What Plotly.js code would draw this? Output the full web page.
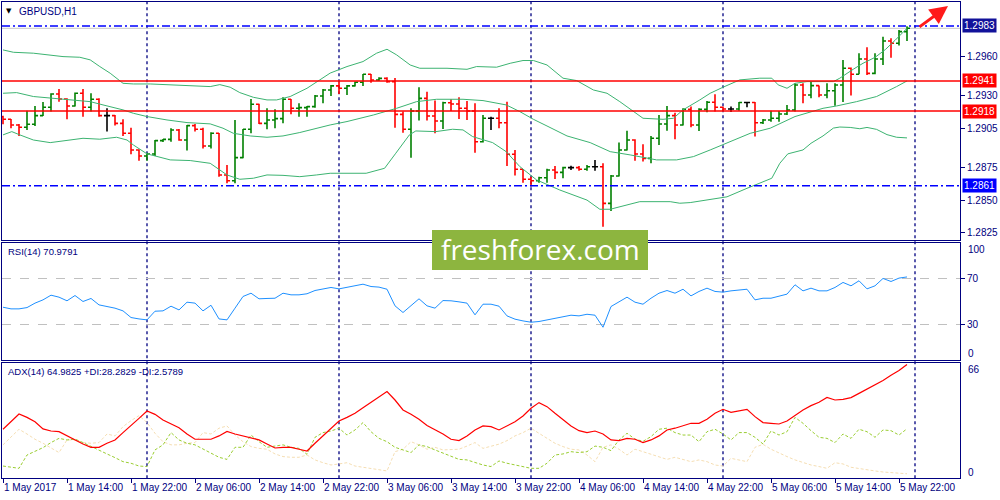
<!DOCTYPE html>
<html>
<head>
<meta charset="utf-8">
<script src="https://cdn.plot.ly/plotly-3.0.1.min.js"></script>
<style>
  html, body { margin: 0; padding: 0; background: #fff; }
  #chart { width: 1000px; height: 500px; }
</style>
</head>
<body>
<div id="chart"></div>
<script>
/* =========================
   GBPUSD H1 data
========================= */
const barOpen = [
  1.29137,1.29117,1.29074,1.29056,1.29079,1.29145,1.29209,1.29310,1.29272,1.29219,
  1.29316,1.29209,1.29270,1.29145,1.29145,1.29086,1.29010,1.28883,1.28837,1.28852,
  1.28954,1.28964,1.29035,1.28959,1.29069,1.29041,1.28913,1.29010,1.28692,1.28648,
  1.28824,1.29041,1.29232,1.29086,1.29112,1.29122,1.29270,1.29201,1.29206,1.29214,
  1.29295,1.29341,1.29372,1.29354,1.29372,1.29400,1.29461,1.29417,1.29430,1.29405,
  1.29155,1.29041,1.29181,1.29277,1.29142,1.29104,1.29244,1.29234,1.29201,1.29181,
  1.28946,1.29125,1.29125,1.29091,1.28850,1.28735,1.28659,1.28648,1.28671,1.28730,
  1.28712,1.28748,1.28748,1.28735,1.28755,1.28755,1.28475,1.28684,1.28883,1.28959,
  1.28852,1.28819,1.28972,1.29081,1.29145,1.29074,1.29193,1.29074,1.29193,1.29247,
  1.29209,1.29196,1.29196,1.29245,1.29245,1.29091,1.29112,1.29125,1.29158,1.29188,
  1.29379,1.29303,1.29374,1.29303,1.29335,1.29379,1.29507,1.29461,1.29578,1.29468,
  1.29578,1.29715,1.29698,1.29787
];
const barHigh = [
  1.29145,1.29120,1.29081,1.29183,1.29219,1.29249,1.29316,1.29349,1.29277,1.29321,
  1.29349,1.29316,1.29277,1.29201,1.29150,1.29117,1.29053,1.28888,1.28862,1.28959,
  1.28967,1.29048,1.29043,1.29074,1.29081,1.29053,1.29018,1.29012,1.28768,1.29112,
  1.29043,1.29272,1.29235,1.29201,1.29193,1.29285,1.29272,1.29239,1.29219,1.29303,
  1.29349,1.29379,1.29405,1.29379,1.29405,1.29463,1.29463,1.29438,1.29438,1.29432,
  1.29176,1.29201,1.29361,1.29328,1.29260,1.29252,1.29270,1.29285,1.29257,1.29239,
  1.29150,1.29137,1.29201,1.29252,1.28883,1.28738,1.28679,1.28679,1.28740,1.28760,
  1.28755,1.28763,1.28760,1.28768,1.28806,1.28781,1.28692,1.28939,1.29030,1.28964,
  1.28926,1.28990,1.29150,1.29219,1.29168,1.29201,1.29214,1.29201,1.29257,1.29308,
  1.29214,1.29214,1.29250,1.29250,1.29250,1.29120,1.29183,1.29181,1.29226,1.29392,
  1.29392,1.29405,1.29376,1.29392,1.29392,1.29570,1.29512,1.29621,1.29667,1.29621,
  1.29748,1.29736,1.29799,1.29828
];
const barLow = [
  1.29079,1.29048,1.28990,1.29035,1.29066,1.29142,1.29176,1.29252,1.29117,1.29214,
  1.29137,1.29176,1.29137,1.29023,1.29069,1.28990,1.28850,1.28801,1.28801,1.28837,
  1.28944,1.28946,1.28954,1.28878,1.29023,1.28895,1.28895,1.28679,1.28628,1.28628,
  1.28819,1.29010,1.29081,1.29041,1.29048,1.29086,1.29155,1.29137,1.29137,1.29206,
  1.29239,1.29295,1.29310,1.29303,1.29367,1.29372,1.29397,1.29410,1.29397,1.29053,
  1.29015,1.28824,1.29107,1.29107,1.29010,1.29043,1.29181,1.29120,1.29112,1.28862,
  1.28939,1.29035,1.29048,1.28760,1.28687,1.28633,1.28603,1.28633,1.28633,1.28661,
  1.28666,1.28730,1.28725,1.28725,1.28725,1.28297,1.28417,1.28680,1.28878,1.28801,
  1.28794,1.28781,1.28921,1.29030,1.28964,1.29069,1.29056,1.29028,1.29170,1.29176,
  1.29181,1.29173,1.29183,1.29209,1.28985,1.29081,1.29099,1.29099,1.29150,1.29176,
  1.29239,1.29277,1.29285,1.29277,1.29221,1.29250,1.29298,1.29461,1.29455,1.29462,
  1.29532,1.29588,1.29680,1.29715
];
const barClose = [
  1.29117,1.29074,1.29056,1.29079,1.29145,1.29209,1.29310,1.29272,1.29219,1.29316,
  1.29209,1.29270,1.29145,1.29145,1.29086,1.29010,1.28883,1.28837,1.28852,1.28954,
  1.28964,1.29035,1.28959,1.29069,1.29041,1.28913,1.29010,1.28692,1.28648,1.28824,
  1.29041,1.29232,1.29086,1.29112,1.29122,1.29270,1.29201,1.29206,1.29214,1.29295,
  1.29341,1.29372,1.29354,1.29372,1.29400,1.29461,1.29417,1.29430,1.29405,1.29155,
  1.29041,1.29181,1.29277,1.29142,1.29104,1.29244,1.29234,1.29201,1.29181,1.28946,
  1.29125,1.29125,1.29091,1.28850,1.28735,1.28659,1.28648,1.28671,1.28730,1.28712,
  1.28748,1.28748,1.28735,1.28755,1.28755,1.28475,1.28684,1.28883,1.28959,1.28852,
  1.28819,1.28972,1.29081,1.29145,1.29074,1.29193,1.29074,1.29193,1.29247,1.29209,
  1.29196,1.29196,1.29245,1.29245,1.29091,1.29112,1.29125,1.29158,1.29188,1.29379,
  1.29303,1.29374,1.29303,1.29335,1.29379,1.29507,1.29461,1.29578,1.29468,1.29578,
  1.29715,1.29698,1.29787,1.29812
];

// Bollinger bands, read at the bar positions where the line bends
const bbUpperX = [0,1.3,3.8,7.5,9.6,10.9,12.1,13.4,15,16.3,18.4,20.5,22.5,25.9,27.1,28.4,29.6,31.3,33,34.2,
  35.9,38,39.6,40.9,43,45,46.7,48,49.2,50.9,52.1,55.5,58,59.2,61.7,63.4,65,66.3,68,70,
  71.7,73.8,75.5,77.1,80,82.5,83.8,85,87.1,88.4,90,92.1,94.6,96.1,96.9,98,99,100.5,103.8,104.6,
  106.3,107.5,109,110.3,111.5,112.8,113];
const bbUpperY = [1.29647,1.29629,1.29622,1.29596,1.29591,1.29571,1.29520,1.29469,1.29392,1.29387,
  1.29387,1.29380,1.29377,1.29367,1.29382,1.29362,1.29321,1.29285,1.29265,1.29265,
  1.29291,1.29354,1.29418,1.29470,1.29520,1.29558,1.29622,1.29652,1.29609,1.29532,
  1.29507,1.29507,1.29499,1.29520,1.29515,1.29545,1.29566,1.29566,1.29532,1.29431,
  1.29413,1.29341,1.29316,1.29252,1.29125,1.29117,1.29125,1.29189,1.29265,1.29316,
  1.29362,1.29418,1.29431,1.29431,1.29380,1.29354,1.29392,1.29405,1.29405,1.29431,
  1.29500,1.29545,1.29590,1.29650,1.29720,1.29800,1.29812];
const bbMidX = [0,1.7,3.8,8,10.9,12.5,15,16.3,18,20.5,23,25.9,27.5,28.8,30.9,33,35,37.1,39.2,40.9,
  43,46.3,49.2,51.7,54.2,57.5,60,62.9,64.6,66.3,68,70.5,73.4,75.9,78.4,81.7,84.2,86.3,88.4,90.9,
  93.4,95.9,99,102.5,104.2,106.7,109.2,111.7,113];
const bbMidY = [1.29316,1.29321,1.29291,1.29270,1.29252,1.29227,1.29189,1.29163,1.29138,1.29112,
  1.29092,1.29082,1.29049,1.29010,1.28990,1.28980,1.28990,1.29016,1.29049,1.29074,
  1.29100,1.29150,1.29201,1.29252,1.29270,1.29270,1.29260,1.29227,1.29176,1.29117,
  1.29066,1.28990,1.28939,1.28870,1.28845,1.28807,1.28807,1.28832,1.28883,1.28947,
  1.29010,1.29049,1.29138,1.29201,1.29219,1.29252,1.29291,1.29367,1.29410];
const bbLowX = [0,1.1,2.1,3.8,5.9,8,10,12.1,14.2,15.5,16.3,18,19.2,20.9,23.4,25.9,28,29.6,31.3,33,
  35,37.1,39.2,40.9,45.4,47.7,49.1,50.8,51.6,54.1,56.2,57.5,58.7,61.2,62.9,64.6,66.7,69.6,73,74.6,
  75.9,78,79.6,83.4,84.6,85.9,88,90.5,93,96.1,97.1,98.1,100,101,102.5,103.8,104.6,105.9,107.1,108,
  109.2,110.5,111.7,113];
const bbLowY = [1.28998,1.29023,1.28998,1.28959,1.28939,1.28954,1.28972,1.28965,1.28980,1.28959,
  1.28921,1.28853,1.28832,1.28807,1.28802,1.28781,1.28692,1.28659,1.28667,1.28692,
  1.28689,1.28679,1.28692,1.28705,1.28705,1.28743,1.28858,1.28998,1.29028,1.29023,
  1.29041,1.29036,1.28985,1.28939,1.28870,1.28756,1.28654,1.28577,1.28500,1.28430,
  1.28430,1.28463,1.28488,1.28488,1.28476,1.28481,1.28500,1.28525,1.28590,1.28667,
  1.28781,1.28853,1.28883,1.28934,1.28990,1.29050,1.29058,1.29055,1.29045,1.29055,
  1.29040,1.29000,1.28980,1.28975];

const rsiVals = [
  45.1,43.7,43.7,44.8,48.6,51.4,55.4,53.7,50.6,55.1,
  50.0,52.6,47.1,46.0,44.3,42.0,36.3,35.1,34.3,41.7,
  42.0,46.0,42.8,49.4,48.6,42.0,46.8,35.1,34.3,44.3,
  54.3,57.1,52.3,52.6,52.8,57.1,55.7,55.7,56.6,59.4,
  60.5,62.0,60.8,62.3,63.4,64.8,62.8,62.3,60.5,46.3,
  40.6,46.8,52.3,46.3,44.3,50.8,50.6,49.7,48.6,38.6,
  47.7,47.7,46.0,37.7,34.9,33.4,32.3,32.9,34.3,35.1,
  37.1,38.3,37.7,39.1,38.3,28.0,45.7,50.0,53.7,49.4,
  47.7,52.8,57.1,59.4,57.1,60.5,54.8,58.6,61.4,58.6,
  58.0,59.1,59.8,60.5,51.4,52.8,52.8,54.8,56.3,64.3,
  59.1,61.4,59.1,59.1,62.0,66.3,63.4,67.7,60.8,63.4,
  69.7,67.1,70.0,70.98
];
const adxVals = [
  28.0,32.3,36.7,34.8,32.3,28.2,27.0,26.6,24.2,21.9,
  19.6,17.7,17.7,20.0,21.9,26.1,30.4,34.2,38.4,36.5,
  33.3,31.0,28.9,25.3,22.3,22.3,22.3,24.2,26.8,25.3,
  24.2,23.4,21.9,19.6,17.3,17.7,17.7,16.6,15.6,20.0,
  24.2,28.5,32.7,34.8,37.1,40.3,43.2,46.2,49.5,44.7,
  39.0,36.6,33.7,30.1,27.6,25.3,22.3,21.5,24.2,27.6,
  29.9,29.5,27.6,29.9,32.3,35.6,40.0,43.2,40.9,37.1,
  33.3,29.9,27.2,26.1,27.0,25.3,21.9,21.5,22.8,22.3,
  20.4,21.9,24.2,27.6,28.6,30.1,31.4,31.4,33.7,37.1,
  39.4,37.7,38.4,39.4,35.2,31.8,31.4,31.0,32.7,36.1,
  39.0,41.5,43.4,46.2,44.7,45.1,46.1,48.5,50.8,53.3,
  55.8,58.8,61.5,64.98
];
const plusDI = [
  7.0,6.3,5.7,13.3,15.2,17.5,20.4,22.8,21.9,22.4,
  20.4,18.1,16.2,13.9,11.8,9.5,8.6,7.0,6.7,16.2,
  19.1,26.1,21.9,20.0,19.1,16.6,14.3,12.0,10.8,17.7,
  17.7,24.7,20.9,17.7,18.4,19.1,17.7,17.1,13.7,23.4,
  26.1,27.0,28.6,24.7,27.6,31.8,26.6,22.8,20.9,17.7,
  16.2,14.7,19.1,18.1,16.2,14.3,12.4,10.8,10.5,8.9,
  7.6,6.7,9.9,8.6,7.6,6.3,5.7,5.7,8.6,13.3,
  13.9,15.2,14.7,15.2,18.4,17.7,15.8,21.9,25.7,22.4,
  21.1,23.8,28.0,28.6,26.1,24.7,24.7,20.9,26.6,28.0,
  25.3,21.9,26.1,26.1,23.4,19.6,27.0,24.7,26.6,34.8,
  31.4,27.2,23.4,22.8,20.4,25.3,22.8,28.0,26.6,23.4,
  27.6,27.2,24.7,28.28
];
const minusDI = [
  19.1,23.8,28.0,25.3,22.3,20.0,17.1,14.7,21.9,21.9,
  20.4,20.0,20.4,25.3,24.2,29.5,32.9,35.8,31.8,25.7,
  20.9,19.1,19.1,20.0,20.4,26.1,25.3,28.6,29.9,24.7,
  20.9,18.1,17.1,16.6,13.9,12.4,12.0,12.0,13.3,10.5,
  8.9,7.6,8.2,8.9,7.0,6.3,5.7,4.8,4.2,15.2,
  16.6,20.9,19.1,16.6,17.7,16.2,16.2,16.6,18.4,20.4,
  17.1,18.1,19.5,21.5,24.2,26.1,28.6,25.7,22.8,20.0,
  18.1,16.6,16.2,13.3,9.5,17.7,19.1,16.6,13.3,16.6,
  15.2,13.7,12.4,10.8,12.0,10.8,9.5,10.5,9.5,7.6,
  7.0,11.4,10.5,9.5,17.7,19.4,16.6,14.3,12.4,10.5,
  9.1,7.6,6.7,5.7,8.9,8.2,6.3,5.5,4.8,4.2,
  3.6,3.2,2.8,2.58
];

const xTickBars = [0, 8, 16, 24, 32, 40, 48, 56, 64, 72, 80, 88, 96, 104, 112];
const xTickText = ["1 May 2017", "1 May 14:00", "1 May 22:00", "2 May 06:00", "2 May 14:00",
  "2 May 22:00", "3 May 06:00", "3 May 14:00", "3 May 22:00", "4 May 06:00",
  "4 May 14:00", "4 May 22:00", "5 May 06:00", "5 May 14:00", "5 May 22:00"];
const separatorBars = [18, 42, 66, 90, 114];   // day boundaries (00:00)
const priceTickVals = [1.2960, 1.2930, 1.2905, 1.2875, 1.2850, 1.2825];
const blueLevels = [1.2983, 1.2861];
const redLevels = [1.2941, 1.2918];

/* =========================
   Plotly plotting
========================= */
const NAVY = "#000080";
const FONT = "Liberation Sans, Arial, sans-serif";
const W = 1000, H = 500;
const px = v => v / W;            // pixel x -> paper
const py = v => 1 - v / H;        // pixel y -> paper
const barIdx = barClose.map((_, i) => i);
const XR = [-0.125, 119.625];

function ohlcTrace(keep, color) {
  const idx = barIdx.filter(i => keep(barOpen[i], barClose[i]));
  return {
    type: "ohlc", xaxis: "x", yaxis: "y",
    x: idx,
    open: idx.map(i => barOpen[i]),
    high: idx.map(i => barHigh[i]),
    low: idx.map(i => barLow[i]),
    close: idx.map(i => barClose[i]),
    increasing: { line: { color: color, width: 1.6 } },
    decreasing: { line: { color: color, width: 1.6 } },
    tickwidth: 0.38,
    hoverinfo: "skip"
  };
}

function lineTrace(x, y, xa, ya, color, width, dash) {
  return {
    type: "scatter", mode: "lines", x: x, y: y, xaxis: xa, yaxis: ya,
    line: { color: color, width: width, dash: dash || "solid" },
    hoverinfo: "skip"
  };
}

const traces = [
  lineTrace(bbUpperX, bbUpperY, "x", "y", "#3cb371", 1),
  lineTrace(bbMidX, bbMidY, "x", "y", "#3cb371", 1),
  lineTrace(bbLowX, bbLowY, "x", "y", "#3cb371", 1),
  ohlcTrace((o, c) => c > o, "#008000"),
  ohlcTrace((o, c) => c < o, "#ff0000"),
  ohlcTrace((o, c) => c === o, "#000000"),
  lineTrace(barIdx, rsiVals, "x2", "y2", "#1e90ff", 1),
  lineTrace(barIdx, minusDI, "x3", "y3", "#f5deb3", 1, "3px,2px"),
  lineTrace(barIdx, plusDI, "x3", "y3", "#9acd32", 1, "3px,2px"),
  lineTrace(barIdx, adxVals, "x3", "y3", "#ff0000", 1.2)
];

const baseX = {
  range: XR, domain: [px(2), px(960)], showgrid: false, zeroline: false,
  showline: true, mirror: true, linecolor: NAVY, linewidth: 1,
  showticklabels: false, ticks: "", fixedrange: true, automargin: false
};
const baseY = {
  side: "right", showgrid: false, zeroline: false,
  showline: true, mirror: true, linecolor: NAVY, linewidth: 1,
  ticks: "outside", ticklen: 4, tickcolor: NAVY, automargin: false,
  tickfont: { family: FONT, size: 10, color: NAVY }, fixedrange: true
};

const layout = {
  width: W, height: H,
  margin: { l: 0, r: 0, t: 0, b: 0 },
  paper_bgcolor: "#ffffff",
  plot_bgcolor: "#ffffff",
  showlegend: false,
  font: { family: FONT, size: 10, color: NAVY },
  xaxis: Object.assign({}, baseX, { anchor: "y", rangeslider: { visible: false } }),
  xaxis2: Object.assign({}, baseX, { anchor: "y2" }),
  xaxis3: Object.assign({}, baseX, {
    anchor: "y3", showticklabels: true, tickmode: "array",
    tickvals: xTickBars, ticktext: xTickText, tickangle: 0,
    ticks: "outside", ticklen: 4, tickcolor: NAVY,
    ticklabelposition: "outside right",
    tickfont: { family: FONT, size: 10, color: NAVY }
  }),
  yaxis: Object.assign({}, baseY, {
    anchor: "x", domain: [py(239.5), py(2)],
    range: [1.28199, 1.30013],
    tickmode: "array", tickvals: priceTickVals,
    ticktext: priceTickVals.map(v => v.toFixed(4))
  }),
  yaxis2: Object.assign({}, baseY, {
    anchor: "x2", domain: [py(360), py(243)], range: [0, 100],
    tickmode: "array", tickvals: [70, 30], ticktext: ["70", "30"],
    showgrid: true, gridcolor: "#c0c0c0", griddash: "dash", gridwidth: 1
  }),
  yaxis3: Object.assign({}, baseY, {
    anchor: "x3", domain: [py(478.3), py(362.7)], range: [0, 66],
    tickmode: "array", tickvals: [], ticks: ""
  }),
  shapes: [],
  annotations: []
};

// day separators through all three panels
for (const b of separatorBars) {
  layout.shapes.push({
    type: "line", xref: "x", yref: "paper", x0: b, x1: b, y0: py(478.3), y1: py(2),
    line: { color: NAVY, width: 1.3, dash: "3px,3px" }, layer: "below"
  });
}
// horizontal levels on the price panel
layout.shapes.push({
  type: "line", xref: "x domain", yref: "y", x0: 0, x1: 1,
  y0: barClose[barClose.length - 1], y1: barClose[barClose.length - 1],
  line: { color: "#c8c8c8", width: 1 }, layer: "below"
});
for (const v of blueLevels) {
  layout.shapes.push({
    type: "line", xref: "x domain", yref: "y", x0: 0, x1: 1, y0: v, y1: v,
    line: { color: "#0000ff", width: 1.5, dash: "8px,3px,2px,3px" }
  });
}
for (const v of redLevels) {
  layout.shapes.push({
    type: "line", xref: "x domain", yref: "y", x0: 0, x1: 1, y0: v, y1: v,
    line: { color: "#ff0000", width: 1.5 }
  });
}
// watermark box
layout.shapes.push({
  type: "rect", xref: "paper", yref: "paper",
  x0: px(432), x1: px(648), y0: py(270), y1: py(230),
  fillcolor: "#8db53f", line: { width: 0 }, layer: "above"
});

const ann = layout.annotations;
// level price boxes on the right scale
const levelBg = { "1.2983": "#12129a", "1.2861": "#0000ff", "1.2941": "#ff0000", "1.2918": "#ff0000" };
for (const v of blueLevels.concat(redLevels)) {
  const t = v.toFixed(4);
  ann.push({
    xref: "paper", yref: "y", x: px(962), y: v, xanchor: "left", yanchor: "middle",
    text: t, showarrow: false, bgcolor: levelBg[t], borderpad: 1,
    font: { family: FONT, size: 10, color: "#ffffff" }
  });
}
// edge labels of the indicator scales, kept inside their panels
const edge = (yref, v, shift) => ann.push({
  xref: "paper", yref: yref, x: px(966), y: v, yshift: shift,
  xanchor: "left", yanchor: "middle", text: String(v), showarrow: false,
  font: { family: FONT, size: 10, color: NAVY }
});
edge("y2", 100, -6);
edge("y2", 0, 7);
edge("y3", 66, -7);
edge("y3", 0, 6);

// panel captions
ann.push({ xref: "paper", yref: "paper", x: px(9), y: py(11), text: "▼", showarrow: false,
  xanchor: "center", yanchor: "middle", font: { family: "DejaVu Sans", size: 7, color: "#000000" } });
ann.push({ xref: "paper", yref: "paper", x: px(17), y: py(11), text: "GBPUSD,H1", showarrow: false,
  xanchor: "left", yanchor: "middle", font: { family: FONT, size: 10, color: NAVY } });
ann.push({ xref: "paper", yref: "paper", x: px(6), y: py(251), text: "RSI(14) 70.9791", showarrow: false,
  xanchor: "left", yanchor: "middle", font: { family: FONT, size: 9.5, color: NAVY } });
ann.push({ xref: "paper", yref: "paper", x: px(6), y: py(371),
  text: "ADX(14) 64.9825 +DI:28.2829 -DI:2.5789", showarrow: false,
  xanchor: "left", yanchor: "middle", font: { family: FONT, size: 9.5, color: NAVY } });

// watermark text
ann.push({ xref: "paper", yref: "paper", x: px(540), y: py(249), text: "freshforex.com",
  showarrow: false, xanchor: "center", yanchor: "middle",
  font: { family: "Open Sans", size: 28, color: "#ffffff" } });

// red arrow object
ann.push({ xref: "paper", yref: "paper", x: px(948), y: py(6), ax: -30, ay: 22,
  text: "", showarrow: true, arrowhead: 2, arrowsize: 1.2, arrowwidth: 3,
  arrowcolor: "#ff1a1a", standoff: 0 });

Plotly.newPlot("chart", traces, layout, { displayModeBar: false, staticPlot: true });
</script>
</body>
</html>
